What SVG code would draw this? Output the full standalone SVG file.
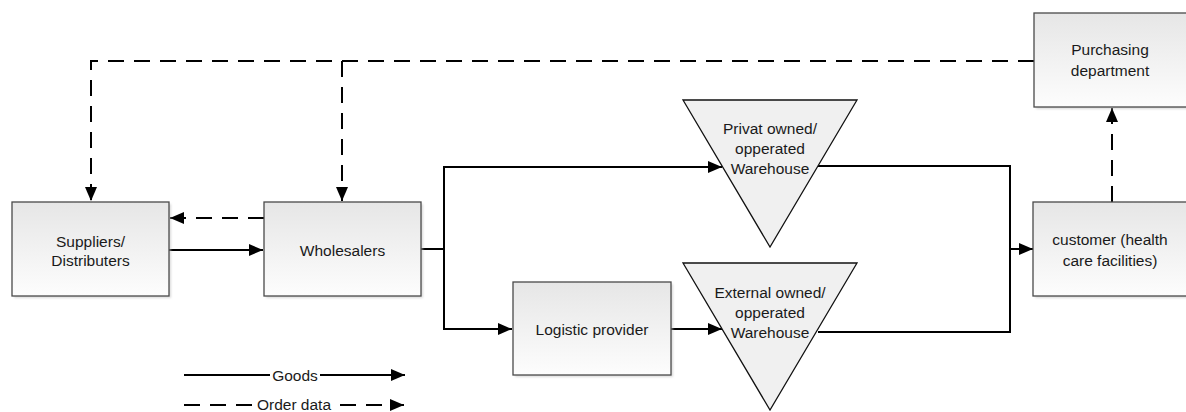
<svg xmlns="http://www.w3.org/2000/svg" width="1186" height="412" viewBox="0 0 1186 412">
  <style>
    .box { fill: url(#boxFill); stroke: #4a4a4a; stroke-width: 1.3; }
    .shadow { fill: #bdbdbd; opacity: 0.55; filter: url(#soft); }
    .tri { fill: #f0f0f0; stroke: #111; stroke-width: 1.3; stroke-linejoin: miter; }
    .lbl { font-family: "Liberation Sans", Arial, sans-serif; font-size: 15.5px; fill: #1a1a1a; text-anchor: middle; }
    .flow { fill: none; stroke: #000; stroke-width: 2; }
    .order { fill: none; stroke: #000; stroke-width: 2; stroke-dasharray: 16 10; }
  </style>
  <defs>
    <linearGradient id="boxFill" x1="0" y1="0" x2="0" y2="1">
      <stop offset="0" stop-color="#e6e6e6"/>
      <stop offset="1" stop-color="#fdfdfd"/>
    </linearGradient>
    <filter id="soft" x="-10%" y="-10%" width="120%" height="120%">
      <feGaussianBlur stdDeviation="1.2"/>
    </filter>
    <marker id="head" markerUnits="userSpaceOnUse" markerWidth="14" markerHeight="12" refX="14" refY="6" orient="auto">
      <path d="M0,0 L14,6 L0,12 Z" fill="#000"/>
    </marker>
  </defs>

  <!-- connectors -->
  <g id="connectors">
    <!-- goods flow -->
    <line class="flow" x1="169" y1="250" x2="263" y2="250" marker-end="url(#head)"/>
    <polyline class="flow" points="421,249 444,249"/>
    <polyline class="flow" points="444,249 444,167 722,167" marker-end="url(#head)"/>
    <polyline class="flow" points="444,249 444,329 512,329" marker-end="url(#head)"/>
    <line class="flow" x1="671" y1="329" x2="722" y2="329" marker-end="url(#head)"/>
    <polyline class="flow" points="818,166 1010,166 1010,332 818,332"/>
    <line class="flow" x1="1010" y1="249" x2="1033" y2="249" marker-end="url(#head)"/>
    <!-- order data flow -->
    <polyline class="order" points="1034,61 91,61 91,201" marker-end="url(#head)"/>
    <line class="order" x1="342" y1="61" x2="342" y2="201" marker-end="url(#head)"/>
    <line class="order" x1="264" y1="218" x2="170" y2="218" marker-end="url(#head)"/>
    <line class="order" x1="1112" y1="202" x2="1112" y2="108" marker-end="url(#head)"/>
  </g>

  <g id="suppliers">
    <rect class="shadow" x="14" y="204" width="157" height="94"/>
    <rect class="box" x="12" y="202" width="157" height="94"/>
    <text class="lbl" x="90.5" y="247">Suppliers/</text>
    <text class="lbl" x="90.5" y="266">Distributers</text>
  </g>

  <g id="wholesalers">
    <rect class="shadow" x="266" y="204" width="157" height="94"/>
    <rect class="box" x="264" y="202" width="157" height="94"/>
    <text class="lbl" x="342.5" y="256">Wholesalers</text>
  </g>

  <g id="logistic-provider">
    <rect class="shadow" x="515" y="284" width="158" height="93"/>
    <rect class="box" x="513" y="282" width="158" height="93"/>
    <text class="lbl" x="592" y="335">Logistic provider</text>
  </g>

  <g id="private-warehouse">
    <polygon class="tri" points="683,100 857,100 770,247"/>
    <text class="lbl" x="770" y="134">Privat owned/</text>
    <text class="lbl" x="770" y="154">opperated</text>
    <text class="lbl" x="770" y="174">Warehouse</text>
  </g>

  <g id="external-warehouse">
    <polygon class="tri" points="683,263 857,263 770,410"/>
    <text class="lbl" x="770" y="298">External owned/</text>
    <text class="lbl" x="770" y="318">opperated</text>
    <text class="lbl" x="770" y="338">Warehouse</text>
  </g>

  <g id="purchasing">
    <rect class="shadow" x="1036" y="15" width="160" height="94"/>
    <rect class="box" x="1034" y="13" width="160" height="94"/>
    <text class="lbl" x="1110" y="55">Purchasing</text>
    <text class="lbl" x="1110" y="76">department</text>
  </g>

  <g id="customer">
    <rect class="shadow" x="1035" y="204" width="160" height="94"/>
    <rect class="box" x="1033" y="202" width="160" height="94"/>
    <text class="lbl" x="1110" y="245">customer (health</text>
    <text class="lbl" x="1110" y="266">care facilities)</text>
  </g>

  <!-- legend -->
  <g id="legend">
    <line class="flow" x1="184" y1="375" x2="270" y2="375"/>
    <text class="lbl" x="295" y="381">Goods</text>
    <line class="flow" x1="320" y1="375" x2="405" y2="375" marker-end="url(#head)"/>
    <line class="order" x1="184" y1="405" x2="254" y2="405"/>
    <text class="lbl" x="294" y="410">Order data</text>
    <line class="order" x1="340" y1="405" x2="404" y2="405" marker-end="url(#head)"/>
  </g>
</svg>
